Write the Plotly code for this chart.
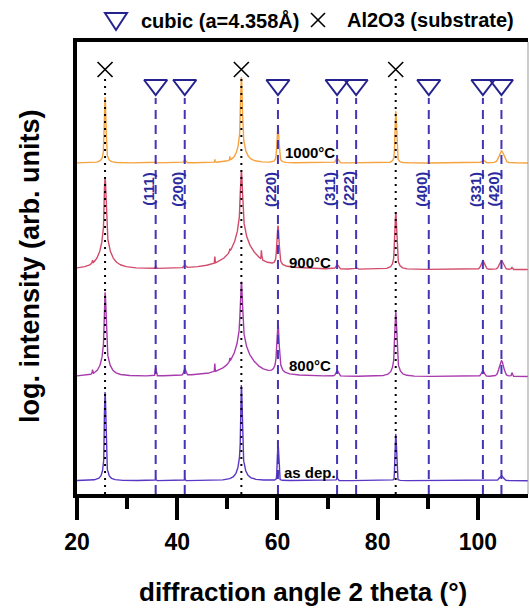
import numpy as np
import plotly.graph_objects as go

# ---------------------------------------------------------------- data
two_theta_range = [20, 110]

substrate_pos = [25.6, 52.8, 83.6]                      # Al2O3 reflections
cubic_pos = [35.7, 41.5, 60.1, 71.9, 75.7, 90.2, 101.0, 104.7]
cubic_hkl = ["(111)", "(200)", "(220)", "(311)", "(222)", "(400)", "(331)", "(420)"]

sample_names = ["as dep.", "800°C", "900°C", "1000°C"]
sample_colors = ["#5A36C4", "#A83AAE", "#D24B6B", "#F6A23E"]
sample_offsets = [1.33, 11.73, 22.43, 33.1]             # vertical stacking (arb. units)

# peak tables: position (°), height (decades above background), FWHM (°), Lorentz fraction
asdep_pos = [25.6, 35.7, 41.5, 52.8, 60.1, 71.9, 83.6, 104.7]
asdep_height = [3.55, 0.08, 0.08, 3.83, 1.54, 0.10, 1.87, 0.20]
asdep_fwhm = [0.15, 0.15, 0.15, 0.15, 0.20, 0.30, 0.20, 0.80]
asdep_eta = [0.02, 0.0, 0.0, 0.03, 0.05, 0.2, 0.03, 0.3]

s800_pos = [23.1, 25.6, 35.7, 41.5, 47.5, 50.5, 52.8, 53.5, 60.1, 71.9, 83.6, 101.0, 104.7, 106.8]
s800_height = [0.20, 3.38, 0.36, 0.30, 0.44, 0.40, 3.80, 0.45, 2.10, 0.24, 2.58, 0.24, 0.64, 0.15]
s800_fwhm = [0.15, 0.20, 0.20, 0.40, 0.10, 0.10, 0.25, 3.5, 0.30, 0.50, 0.25, 0.60, 0.80, 0.20]
s800_eta = [0.0, 0.08, 0.1, 0.3, 0.0, 0.0, 0.15, 0.5, 0.2, 0.3, 0.1, 0.3, 0.3, 0.0]

s900_pos = [23.1, 25.6, 35.7, 41.5, 47.5, 50.5, 52.8, 53.5, 56.8, 60.1, 71.9, 75.7, 83.6, 101.0, 104.7, 106.8]
s900_height = [0.20, 3.70, 0.12, 0.12, 0.40, 0.40, 3.96, 0.45, 0.63, 1.76, 0.19, 0.06, 2.30, 0.36, 0.36, 0.10]
s900_fwhm = [0.15, 0.20, 0.20, 0.40, 0.10, 0.15, 0.25, 3.5, 0.12, 0.30, 0.50, 0.40, 0.25, 0.70, 0.80, 0.20]
s900_eta = [0.0, 0.1, 0.1, 0.3, 0.0, 0.0, 0.15, 0.5, 0.0, 0.2, 0.3, 0.2, 0.1, 0.3, 0.3, 0.0]

s1000_pos = [25.6, 35.7, 41.5, 47.5, 50.5, 52.8, 60.1, 71.9, 83.6, 101.0, 104.7]
s1000_height = [2.64, 0.06, 0.12, 0.13, 0.19, 3.44, 1.48, 0.19, 2.08, 0.12, 0.49]
s1000_fwhm = [0.20, 0.20, 0.40, 0.10, 0.10, 0.20, 0.30, 0.50, 0.20, 0.60, 0.90]
s1000_eta = [0.05, 0.1, 0.3, 0.0, 0.0, 0.06, 0.15, 0.3, 0.08, 0.3, 0.3]

peak_tables = [
    (asdep_pos, asdep_height, asdep_fwhm, asdep_eta),
    (s800_pos, s800_height, s800_fwhm, s800_eta),
    (s900_pos, s900_height, s900_fwhm, s900_eta),
    (s1000_pos, s1000_height, s1000_fwhm, s1000_eta),
]

# ---------------------------------------------------------------- geometry
W, H = 529, 611
L, R, T, B = 77, 528, 42, 494          # plot area in page pixels
DECADE = 2.5                           # y units per decade of intensity
Y_RANGE = [0, (B - T) / 10.0]


def px_x(px):
    return (px - L) / (R - L)


def px_y(py):
    return (B - py) / (B - T)


def log_pattern(tt, pos, height, fwhm, eta):
    inten = np.ones_like(tt)
    for p, h, w, e in zip(pos, height, fwhm, eta):
        z = (2.0 * (tt - p) / w) ** 2
        pv = e / (1.0 + z) + (1.0 - e) * np.exp(-np.log(2.0) * z)
        inten += (10.0 ** h - 1.0) * pv
    return np.log10(inten)


tt = np.arange(two_theta_range[0], two_theta_range[1] + 0.005, 0.01)

fig = go.Figure()

for name, color, off, table in zip(sample_names, sample_colors, sample_offsets, peak_tables):
    fig.add_trace(go.Scatter(
        x=tt, y=off + DECADE * log_pattern(tt, *table),
        mode="lines", line=dict(color=color, width=1.4),
        name=name, showlegend=False, hoverinfo="skip",
    ))

# reference markers at the top of the frame
fig.add_trace(go.Scatter(
    x=substrate_pos, y=[(B - 69.5) / 10.0] * len(substrate_pos), mode="markers",
    marker=dict(symbol="x-thin-open", size=15, color="black",
                line=dict(color="black", width=1.6)),
    showlegend=False, hoverinfo="skip", cliponaxis=False,
))
fig.add_trace(go.Scatter(
    x=cubic_pos, y=[(B - 85) / 10.0] * len(cubic_pos), mode="markers",
    marker=dict(symbol="triangle-down-open", size=20, color="#25228F",
                line=dict(color="#25228F", width=2)),
    showlegend=False, hoverinfo="skip", cliponaxis=False,
))

shapes = []
for p in substrate_pos:
    shapes.append(dict(type="line", xref="x", yref="paper", x0=p, x1=p,
                       y0=0, y1=px_y(79), layer="above",
                       line=dict(color="black", width=2, dash="2px,5px")))
for p in cubic_pos:
    shapes.append(dict(type="line", xref="x", yref="paper", x0=p, x1=p,
                       y0=0, y1=px_y(98), layer="above",
                       line=dict(color="#4434B8", width=2, dash="9px,6px")))

# thin right border
shapes.append(dict(type="line", xref="paper", yref="paper", x0=1, x1=1, y0=0, y1=1,
                   line=dict(color="#999999", width=1)))

# legend symbols above the frame
tx, ty = 116, 13
shapes.append(dict(type="path", xref="paper", yref="paper",
                   path=f"M {px_x(tx-11)},{px_y(ty)} L {px_x(tx+11)},{px_y(ty)} "
                        f"L {px_x(tx)},{px_y(ty+17)} Z",
                   line=dict(color="#25228F", width=2)))
cx, cy = 318, 20
for dx in (-7, 7):
    shapes.append(dict(type="line", xref="paper", yref="paper",
                       x0=px_x(cx - 7), x1=px_x(cx + 7), y0=px_y(cy - dx), y1=px_y(cy + dx),
                       line=dict(color="black", width=1.6)))

FONT = "Liberation Sans, Arial, sans-serif"
annotations = [
    dict(text="cubic (a=4.358Å)", xref="paper", yref="paper", x=px_x(139), y=px_y(20),
         xanchor="left", yanchor="middle", showarrow=False,
         font=dict(family=FONT, size=20, color="black", weight="bold")),
    dict(text="Al2O3 (substrate)", xref="paper", yref="paper", x=px_x(345), y=px_y(20),
         xanchor="left", yanchor="middle", showarrow=False,
         font=dict(family=FONT, size=20, color="black", weight="bold")),
    dict(text="diffraction angle 2 theta (°)", xref="paper", yref="paper",
         x=px_x(303), y=px_y(592), xanchor="center", yanchor="middle", showarrow=False,
         font=dict(family=FONT, size=26, color="black", weight="bold")),
    dict(text="log. intensity (arb. units)", xref="paper", yref="paper", textangle=-90,
         x=px_x(30), y=px_y(266), xanchor="center", yanchor="middle", showarrow=False,
         font=dict(family=FONT, size=27, color="black", weight="bold")),
]

label_pos = [(61.0, 472.7), (62.0, 365.7), (62.0, 262.7), (61.2, 152.7)]
for name, (lx, ly) in zip(sample_names, label_pos):
    annotations.append(dict(text=name, xref="x", yref="y", x=lx, y=(B - ly) / 10.0,
                            xanchor="left", yanchor="middle", showarrow=False,
                            font=dict(family=FONT, size=15, color="black", weight="bold")))

for p, hkl in zip(cubic_pos, cubic_hkl):
    annotations.append(dict(text=hkl, xref="x", yref="paper", x=p, y=px_y(189),
                            textangle=-90, xshift=-8, xanchor="center", yanchor="middle",
                            showarrow=False,
                            font=dict(family=FONT, size=15, color="#2A2A9E", weight="bold")))

fig.update_layout(
    width=W, height=H,
    margin=dict(l=L, r=W - R, t=T, b=H - B),
    paper_bgcolor="white", plot_bgcolor="white",
    shapes=shapes, annotations=annotations, showlegend=False,
    xaxis=dict(
        range=two_theta_range, showgrid=False, zeroline=False,
        showline=True, linecolor="black", linewidth=4, mirror=True,
        tickvals=[20, 40, 60, 80, 100], ticks="outside", ticklen=22, tickwidth=4,
        tickcolor="black", ticklabelstandoff=2,
        tickfont=dict(family=FONT, size=23, color="black", weight="bold"),
        minor=dict(tickvals=[30, 50, 70, 90], ticks="outside", ticklen=11,
                   tickwidth=4, tickcolor="black"),
    ),
    yaxis=dict(
        range=Y_RANGE, showgrid=False, zeroline=False, showticklabels=False,
        ticks="", showline=True, linecolor="black", linewidth=4,
    ),
)

fig.write_html("out.html")
